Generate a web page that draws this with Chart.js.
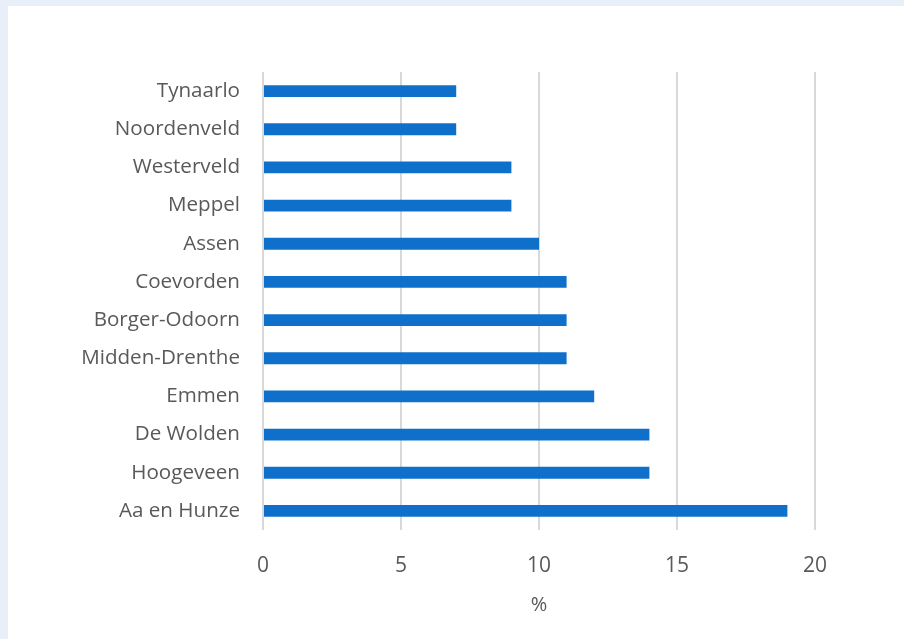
<!DOCTYPE html>
<html>
<head>
<meta charset="utf-8">
<script src="https://cdn.jsdelivr.net/npm/chart.js@4/dist/chart.umd.min.js"></script>
<style>
  html, body { margin: 0; padding: 0; }
  body { width: 904px; height: 639px; background: #e9eff8; position: relative; overflow: hidden; }
  #box { position: absolute; left: 8px; top: 6px; width: 896px; height: 633px; background: #ffffff; }
</style>
</head>
<body>
<div id="box"><canvas id="myChart" width="896" height="633"></canvas></div>
<script>
// gemeenten, van boven naar beneden
const gemeenten = ['Tynaarlo', 'Noordenveld', 'Westerveld', 'Meppel', 'Assen', 'Coevorden',
  'Borger-Odoorn', 'Midden-Drenthe', 'Emmen', 'De Wolden', 'Hoogeveen', 'Aa en Hunze'];
const percentages = [7, 7, 9, 9, 10, 11, 11, 11, 12, 14, 14, 19];
const xTicks = [0, 5, 10, 15, 20];

const ctx = document.getElementById('myChart').getContext('2d');
const myChart = new Chart(ctx, {
  type: 'bar',
  data: {
    labels: gemeenten,
    datasets: [{
      label: '%',
      data: percentages,
      backgroundColor: '#0f70cc',
      borderWidth: 0,
      categoryPercentage: 1,
      barPercentage: 0.31
    }]
  },
  options: {
    indexAxis: 'y',
    responsive: false,
    animation: false,
    layout: { padding: { top: 66, right: 89, bottom: 22, left: 0 } },
    plugins: { legend: { display: false }, tooltip: { enabled: false } },
    scales: {
      x: {
        min: xTicks[0],
        max: xTicks[xTicks.length - 1],
        afterBuildTicks: axis => { axis.ticks = xTicks.map(v => ({ value: v })); },
        grid: { color: '#d9d9d9', lineWidth: 2, drawTicks: false },
        border: { display: false },
        ticks: { color: '#595959', font: { family: 'Open Sans', size: 21 }, padding: 23 },
        title: { display: true, text: '%', color: '#595959', font: { family: 'Open Sans', size: 20 }, padding: { top: 10, bottom: 0 } },
        afterFit: axis => { axis.height = 87; }
      },
      y: {
        grid: { display: false },
        border: { display: false },
        ticks: { color: '#595959', font: { family: 'Open Sans', size: 20.6 }, padding: 15 },
        afterFit: axis => { axis.width = 255; }
      }
    }
  }
});
</script>
</body>
</html>
